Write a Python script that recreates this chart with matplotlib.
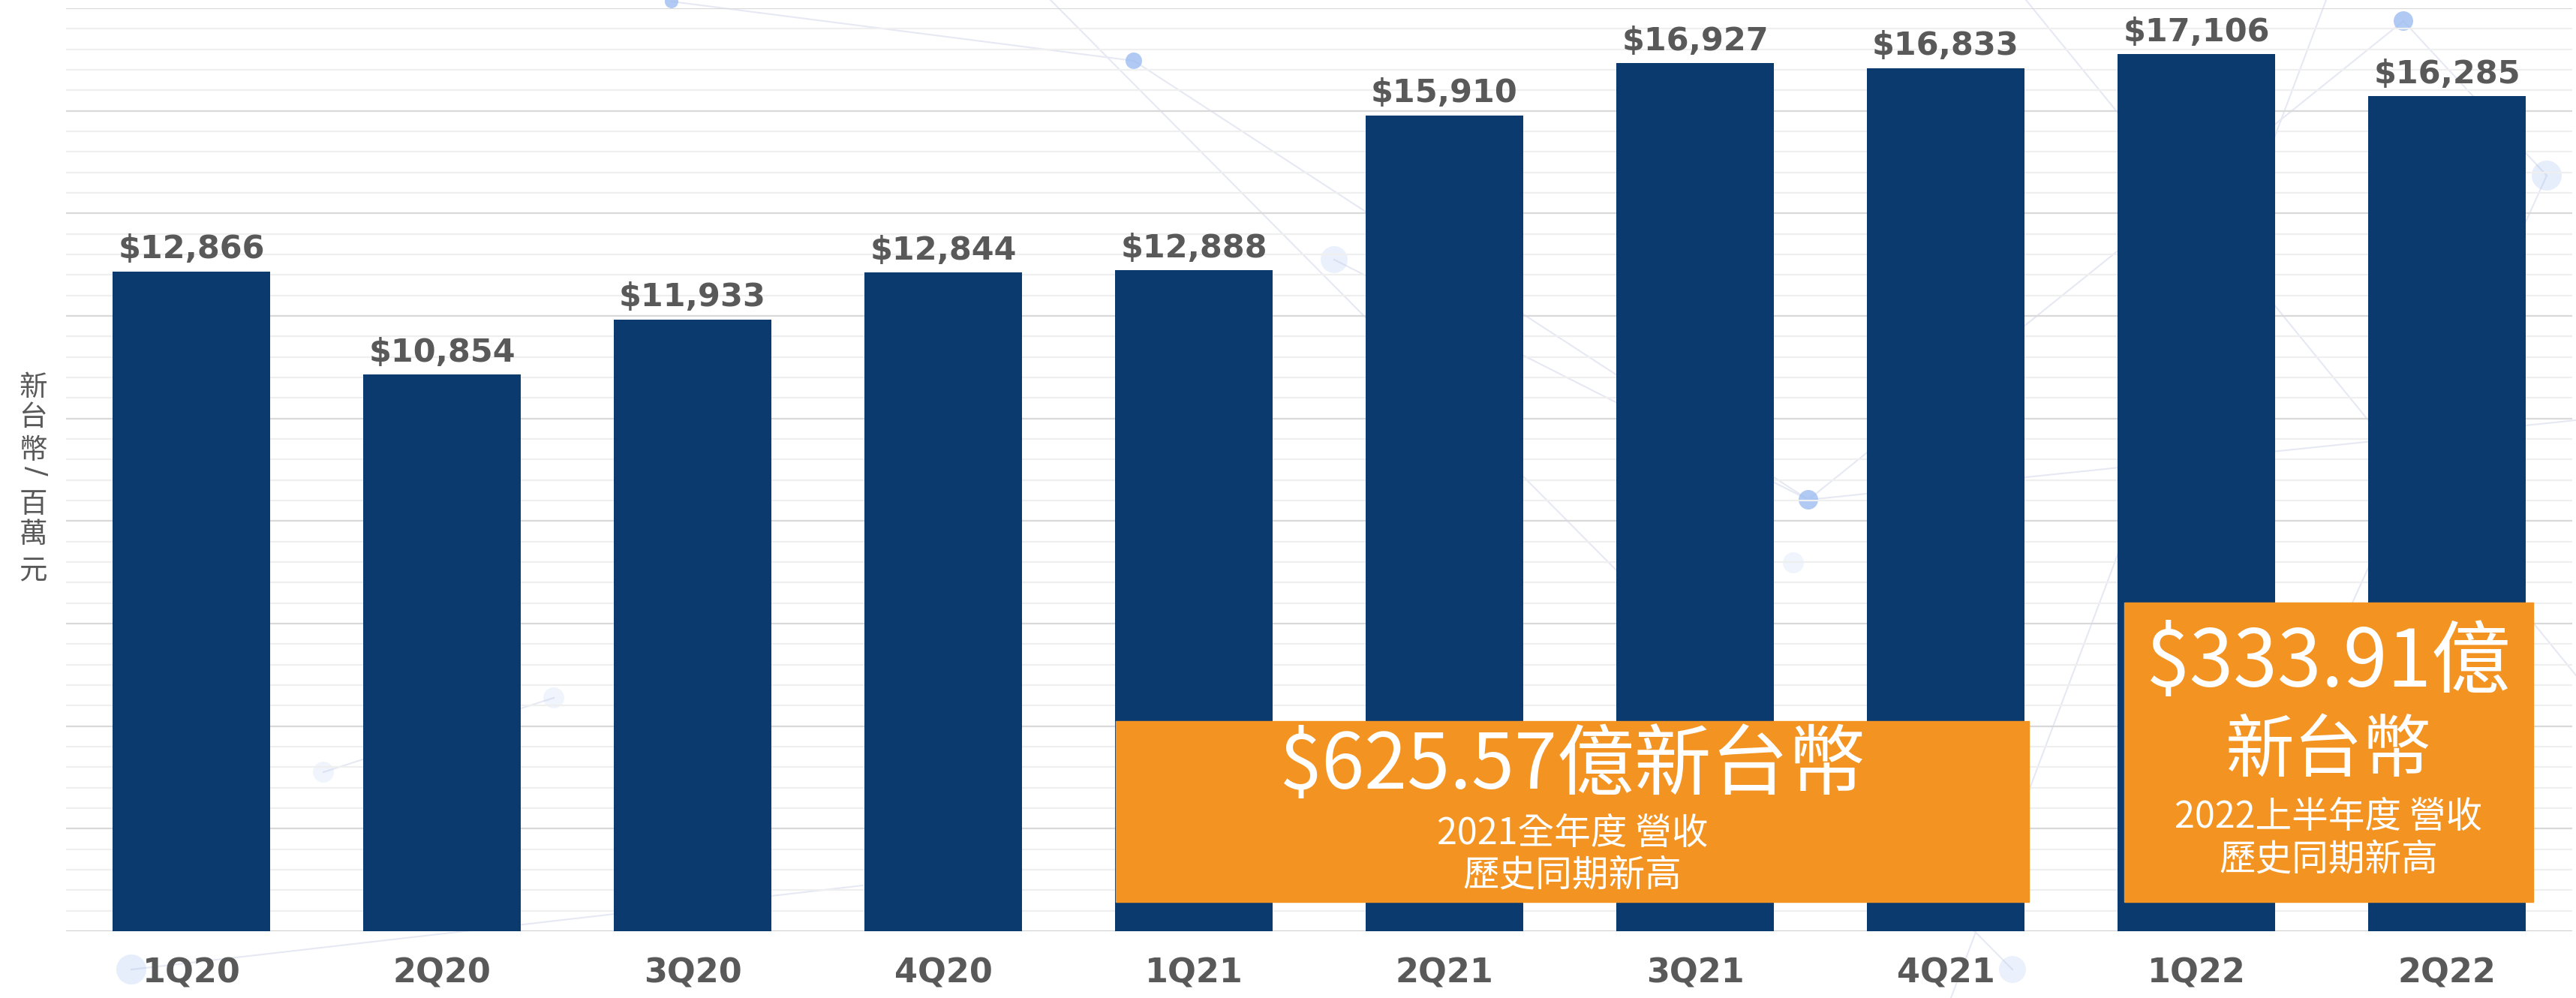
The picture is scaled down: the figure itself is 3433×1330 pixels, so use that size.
import matplotlib
matplotlib.use("Agg")
import matplotlib.pyplot as plt
from matplotlib.patches import Rectangle, Circle
from matplotlib.ticker import MultipleLocator

plt.rcParams['font.family'] = ['DejaVu Sans', 'Noto Sans CJK TC']

# 季度營收（新台幣 百萬元）
quarters = ['1Q20', '2Q20', '3Q20', '4Q20', '1Q21', '2Q21', '3Q21', '4Q21', '1Q22', '2Q22']
revenue = [12866, 10854, 11933, 12844, 12888, 15910, 16927, 16833, 17106, 16285]

W, H = 3433, 1330
BAR = '#0b3a6f'
ORANGE = '#f39422'
GRAY = '#595959'
CJK = ['Noto Sans CJK TC', 'DejaVu Sans']


def fx(x):
    return x / W


def fy(y):
    return 1 - y / H


fig = plt.figure(figsize=(W / 100, H / 100), dpi=100)
fig.patch.set_facecolor('white')

# 背景的網路裝飾
bg = fig.add_axes([0, 0, 1, 1], zorder=0)
bg.set_xlim(0, W)
bg.set_ylim(H, 0)
bg.axis('off')
net_lines = [((895, 2), (1511, 81)), ((1511, 81), (2410, 666)), ((2410, 666), (3203, 28)),
             ((3203, 28), (3394, 234)), ((1778, 346), (2410, 666)), ((1400, 0), (2682, 1292)),
             ((2410, 666), (3433, 560)), ((175, 1292), (1150, 1180)), ((431, 1029), (738, 930)),
             ((2700, 0), (3433, 900)), ((3100, 0), (2600, 1330)), ((3394, 234), (3000, 1100))]
for (x0, y0), (x1, y1) in net_lines:
    bg.plot([x0, x1], [y0, y1], color='#e6e9f3', lw=1.5, zorder=0)
net_dots = [(895, 2, 9, 0.8), (1511, 81, 11, 0.8), (2410, 666, 13, 0.8), (3203, 28, 13, 0.8),
            (3394, 234, 20, 0.25), (1778, 346, 18, 0.2), (175, 1292, 20, 0.25),
            (431, 1029, 14, 0.15), (738, 930, 14, 0.15), (2682, 1292, 18, 0.2), (2390, 750, 14, 0.15)]
for x0, y0, r, a in net_dots:
    bg.add_patch(Circle((x0, y0), r, color='#9dbdf2', alpha=a, lw=0, zorder=1))

ax = fig.add_axes([fx(88), fy(1241), fx(3428 - 88), (1241 - 11) / H], zorder=1)
ax.set_facecolor('none')

x = range(len(quarters))
ax.bar(x, revenue, width=0.63, color=BAR, zorder=3)
for i, v in enumerate(revenue):
    ax.annotate(f'${v:,}', (i, v), xytext=(0, 6), textcoords='offset points',
                ha='center', va='bottom', fontsize=31, fontweight='bold', color=GRAY, zorder=4)

ax.set_xlim(-0.5, len(quarters) - 0.5)
ax.set_ylim(0, 18000)
ax.yaxis.set_major_locator(MultipleLocator(2000))
ax.yaxis.set_minor_locator(MultipleLocator(400))
ax.grid(axis='y', which='major', color='#d9d9d9', lw=1.6, zorder=0)
ax.grid(axis='y', which='minor', color='#efefef', lw=1.6, zorder=0)
ax.axhline(0, color='#d0d0d0', lw=2, zorder=2)
for s in ax.spines.values():
    s.set_visible(False)
ax.set_yticklabels([])
ax.tick_params(axis='y', which='both', length=0)
ax.set_xticks(list(x))
ax.set_xticklabels(quarters, fontsize=32, fontweight='bold', color=GRAY)
ax.tick_params(axis='x', length=0, pad=25)

# 縱軸單位（直排）
for ch, yy in zip('新台幣', [516, 557, 600]):
    fig.text(fx(44), fy(yy), ch, ha='center', va='center', fontsize=27, color=GRAY, family=CJK)
fig.text(fx(46), fy(627), '/', ha='center', va='center', fontsize=27, color=GRAY, rotation=-90)
for ch, yy in zip('百萬元', [672, 713, 762]):
    fig.text(fx(44), fy(yy), ch, ha='center', va='center', fontsize=27, color=GRAY, family=CJK)

# 橘色標註框
boxes = [
    (1487, 961, 2704, 1202, [('$625.57億新台幣', 1022, 74), ('2021全年度 營收', 1111, 35),
                             ('歷史同期新高', 1167, 35)]),
    (2831, 803, 3376, 1202, [('$333.91億', 885, 76), ('新台幣', 1002, 66),
                             ('2022上半年度 營收', 1089, 35), ('歷史同期新高', 1146, 35)]),
]
for x0, y0, x1, y1, lines in boxes:
    fig.patches.append(Rectangle((fx(x0), fy(y1)), fx(x1 - x0), (y1 - y0) / H,
                                 transform=fig.transFigure, color=ORANGE, zorder=5))
    for txt, yy, size in lines:
        fig.text(fx((x0 + x1) / 2), fy(yy), txt, ha='center', va='center', fontsize=size,
                 color='white', family=CJK, fontweight='light', zorder=6)

fig.savefig('out.png', dpi=100)
